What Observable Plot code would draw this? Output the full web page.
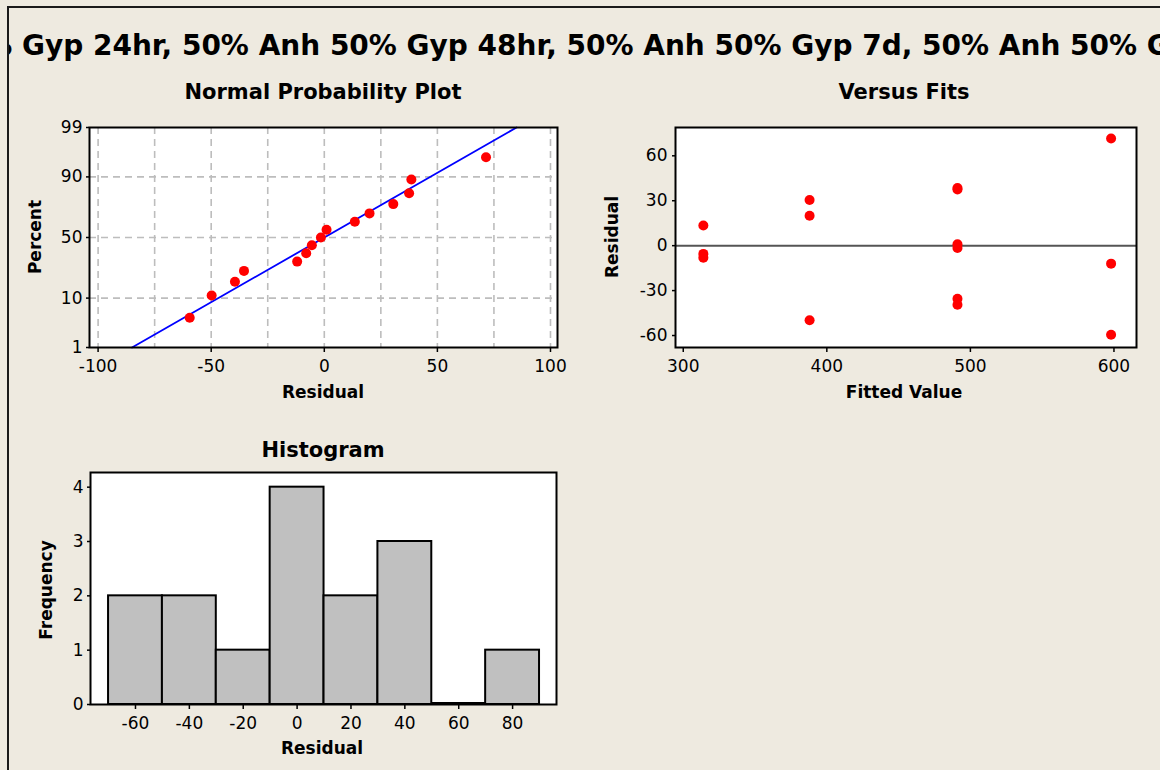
<!DOCTYPE html>
<html><head><meta charset="utf-8">
<script src="https://cdn.jsdelivr.net/npm/d3@7"></script>
<script src="https://cdn.jsdelivr.net/npm/@observablehq/plot@0.6"></script>
<style>
html,body{margin:0;padding:0;background:#EEEAE0;}
#page{position:relative;width:1160px;height:770px;background:#EEEAE0;overflow:hidden;font-family:"DejaVu Sans",sans-serif;color:#000;}
#border{position:absolute;left:7px;top:6px;width:1200px;height:800px;border-left:2px solid #1a1a1a;border-top:2px solid #1a1a1a;}
#titlebox{position:absolute;left:9px;top:8px;width:1151px;height:70px;overflow:hidden;}
#title{position:absolute;top:38px;left:0;white-space:nowrap;font-weight:bold;font-size:26px;line-height:1;transform:translateY(-50%);}
.ptitle{position:absolute;font-weight:bold;font-size:21px;transform:translate(-50%,-50%);white-space:nowrap;}
.alabel{position:absolute;font-weight:bold;font-size:17px;transform:translate(-50%,-50%);white-space:nowrap;}
.alabel.rot{transform:translate(-50%,-50%) rotate(-90deg);}
.plot{position:absolute;}
</style></head>
<body>
<div id="page">
  <div id="titlebox"><div id="title"><span id="tA">50% </span><span id="tB">Gyp 24hr, 50% Anh 50% Gyp 48hr, 50% Anh 50% Gyp 7d, 50% Anh 50% </span><span id="tC">Gyp 28d</span></div></div>
  <div id="border"></div>
  <div class="ptitle" style="left:323px;top:92px">Normal Probability Plot</div>
  <div class="ptitle" style="left:904px;top:92px">Versus Fits</div>
  <div class="ptitle" style="left:323px;top:450px">Histogram</div>
  <div class="alabel" style="left:323px;top:392px">Residual</div>
  <div class="alabel rot" style="left:35px;top:237px">Percent</div>
  <div class="alabel" style="left:904px;top:392px">Fitted Value</div>
  <div class="alabel rot" style="left:612px;top:237px">Residual</div>
  <div class="alabel" style="left:322px;top:748px">Residual</div>
  <div class="alabel rot" style="left:46px;top:590px">Frequency</div>
  <div class="plot" id="p1" style="left:0px;top:110px"></div>
  <div class="plot" id="p2" style="left:580px;top:110px"></div>
  <div class="plot" id="p3" style="left:0px;top:460px"></div>
</div>
<script>
// ---- data ----
// Normal probability plot (sorted residuals and their plotted percent)
const probResidual = [-59.5, -49.8, -39.5, -35.5, -12, -8, -5.5, -1.5, 1, 13.5, 20, 30.5, 37.5, 38.5, 71.5];
const probPercent  = [4.5, 11.0, 17.5, 24.0, 30.5, 37.0, 43.5, 50.0, 56.5, 63.0, 69.5, 76.0, 82.5, 89.0, 95.5];
// fitted reference line end points
const fitLineResidual = [-85, 85];
const fitLinePercent  = [1, 99];
const probXTicks = [-100, -50, 0, 50, 100];
const probXGrid  = [-100, -75, -50, -25, 0, 25, 50, 75, 100];
const probYTicks = [1, 10, 50, 90, 99];
const probYGrid  = [10, 50, 90];

// Versus fits
const fittedValue = [314, 314, 314, 388, 388, 388, 491, 491, 491, 491, 491, 491, 598, 598, 598];
const fitResidual = [13.5, -5.5, -8, 30.5, 20, -49.8, 38.5, 37.5, 1, -1.5, -35.5, -39.5, 71.5, -12, -59.5];
const fitsXTicks = [300, 400, 500, 600];
const fitsYTicks = [-60, -30, 0, 30, 60];

// Histogram
const binLower = [-70, -50, -30, -10, 10, 30, 50, 70];
const binUpper = [-50, -30, -10, 10, 30, 50, 70, 90];
const binCount = [2, 2, 1, 4, 2, 3, 0, 1];
const histXTicks = [-60, -40, -20, 0, 20, 40, 60, 80];
const histYTicks = [0, 1, 2, 3, 4];

// ---- helpers ----
// inverse standard normal CDF (Acklam) for the probability scale
function probit(p) {
  const a=[-3.969683028665376e+01,2.209460984245205e+02,-2.759285104469687e+02,1.383577518672690e+02,-3.066479806614716e+01,2.506628277459239e+00];
  const b=[-5.447609879822406e+01,1.615858368580409e+02,-1.556989798598866e+02,6.680131188771972e+01,-1.328068155288572e+01];
  const c=[-7.784894002430293e-03,-3.223964580411365e-01,-2.400758277161838e+00,-2.549732539343734e+00,4.374664141464968e+00,2.938163982698783e+00];
  const d=[7.784695709041462e-03,3.224671290700398e-01,2.445134137142996e+00,3.754408661907416e+00];
  const pl=0.02425, ph=1-pl; let q,r;
  if (p<pl){q=Math.sqrt(-2*Math.log(p));return (((((c[0]*q+c[1])*q+c[2])*q+c[3])*q+c[4])*q+c[5])/((((d[0]*q+d[1])*q+d[2])*q+d[3])*q+1);}
  if (p<=ph){q=p-0.5;r=q*q;return (((((a[0]*r+a[1])*r+a[2])*r+a[3])*r+a[4])*r+a[5])*q/(((((b[0]*r+b[1])*r+b[2])*r+b[3])*r+b[4])*r+1);}
  q=Math.sqrt(-2*Math.log(1-p));return -(((((c[0]*q+c[1])*q+c[2])*q+c[3])*q+c[4])*q+c[5])/((((d[0]*q+d[1])*q+d[2])*q+d[3])*q+1);
}
const z = pct => probit(pct / 100);
const fmt = v => String(v); // plain hyphen-minus, as in the reference

const FONT = '"DejaVu Sans",sans-serif';
const style = {background: "transparent", fontFamily: FONT, fontSize: "17px", color: "black", overflow: "visible"};
const RED = "#FF0000";
const GRID = "#BDBDBD";
const TICKFS = 17;

// ---- Plot 1: normal probability ----
const probData = probResidual.map((r, i) => ({r, z: z(probPercent[i])}));
const lineData = fitLineResidual.map((r, i) => ({r, z: z(fitLinePercent[i])}));
const yTickZ = probYTicks.map(z);
const yLabel = new Map(yTickZ.map((v, i) => [v, String(probYTicks[i])]));
const p1 = Plot.plot({
  width: 580, height: 300,
  marginLeft: 89, marginRight: 23, marginTop: 17, marginBottom: 63,
  style,
  x: {domain: [-103.8, 103.1]},
  y: {domain: [z(1), z(99)]},
  marks: [
    Plot.frame({fill: "white", stroke: "none"}),
    Plot.ruleX(probXGrid, {stroke: GRID, strokeWidth: 1.6, strokeDasharray: "7,5"}),
    Plot.ruleY(probYGrid.map(z), {stroke: GRID, strokeWidth: 1.6, strokeDasharray: "7,5"}),
    Plot.line(lineData, {x: "r", y: "z", stroke: "#0000FF", strokeWidth: 1.8}),
    Plot.dot(probData, {x: "r", y: "z", r: 5, fill: RED, stroke: null}),
    Plot.frame({stroke: "black", strokeWidth: 2}),
    Plot.axisX(probXTicks, {tickSize: 5, tickPadding: 7, strokeWidth: 1.5, label: null, fontSize: TICKFS, tickFormat: fmt}),
    Plot.axisY(yTickZ, {tickSize: 3, tickPadding: 4, strokeWidth: 1.5, label: null, fontSize: TICKFS, tickFormat: v => yLabel.get(v)})
  ]
});
document.getElementById("p1").append(p1);

// ---- Plot 2: versus fits ----
const fitsData = fittedValue.map((f, i) => ({f, r: fitResidual[i]}));
const p2 = Plot.plot({
  width: 580, height: 300,
  marginLeft: 95, marginRight: 24, marginTop: 17, marginBottom: 63,
  style,
  x: {domain: [294.6, 615.7]},
  y: {domain: [-68, 78.9]},
  marks: [
    Plot.frame({fill: "white", stroke: "none"}),
    Plot.ruleY([0], {stroke: "#555555", strokeWidth: 2}),
    Plot.dot(fitsData, {x: "f", y: "r", r: 5, fill: RED, stroke: null}),
    Plot.frame({stroke: "black", strokeWidth: 2}),
    Plot.axisX(fitsXTicks, {tickSize: 5, tickPadding: 7, strokeWidth: 1.5, label: null, fontSize: TICKFS, tickFormat: fmt}),
    Plot.axisY(fitsYTicks, {tickSize: 3, tickPadding: 5, strokeWidth: 1.5, label: null, fontSize: TICKFS, tickFormat: fmt})
  ]
});
document.getElementById("p2").append(p2);

// ---- Plot 3: histogram ----
const bins = binLower.map((lo, i) => ({lo, hi: binUpper[i], n: binCount[i]}));
const p3 = Plot.plot({
  width: 580, height: 310,
  marginLeft: 90, marginRight: 24, marginTop: 12, marginBottom: 66,
  style,
  x: {domain: [-76.7, 96.3]},
  y: {domain: [0, 4.27]},
  marks: [
    Plot.frame({fill: "white", stroke: "none"}),
    Plot.rect(bins, {x1: "lo", x2: "hi", y1: 0, y2: "n", fill: "#C0C0C0", stroke: "black", strokeWidth: 2}),
    Plot.ruleY(bins.filter(b => b.n === 0), {x1: "lo", x2: "hi", y: 0, dy: -1.5, stroke: "black", strokeWidth: 2}),
    Plot.frame({stroke: "black", strokeWidth: 2}),
    Plot.axisX(histXTicks, {tickSize: 5, tickPadding: 7, strokeWidth: 1.5, label: null, fontSize: TICKFS, tickFormat: fmt}),
    Plot.axisY(histYTicks, {tickSize: 3, tickPadding: 4, strokeWidth: 1.5, label: null, fontSize: TICKFS, tickFormat: fmt})
  ]
});
document.getElementById("p3").append(p3);

// ---- title placement: "Gyp 24hr" starts at x=22 and "Gyp" of the last group at ~x=1147 ----
const title = document.getElementById("title");
const tA = document.getElementById("tA"), tB = document.getElementById("tB");
const wB = tB.getBoundingClientRect().width;
title.style.fontSize = (26 * 1125 / wB) + "px";
const wA2 = tA.getBoundingClientRect().width;
title.style.left = (22 - 9 - wA2) + "px";
</script>
</body></html>
